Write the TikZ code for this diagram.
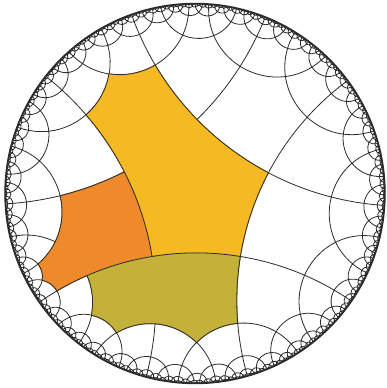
\documentclass[tikz,border=0pt]{standalone}
\definecolor{tyellow}{HTML}{F5B923}
\definecolor{torange}{HTML}{EE8A2B}
\definecolor{tolive}{HTML}{C4B13A}
\definecolor{tline}{HTML}{2B2B2B}
\tikzset{geo/.style={draw=tline, line width=0.8pt, line join=round}, rim/.style={draw=tline, line width=1.4pt}}
\ExplSyntaxOn
\fp_const:Nn \c_hy_cx_fp {195}
\fp_const:Nn \c_hy_cy_fp {194.5}
\fp_const:Nn \c_hy_R_fp {190}
\fp_const:Nn \c_hy_h_fp { ln( cos(pi/5)/sin(pi/4) + sqrt( (cos(pi/5)/sin(pi/4))^2 - 1 ) ) }
\fp_const:Nn \c_hy_rv_fp { sqrt( (cos(pi/5)/sin(pi/5))^2 - 1 ) / ( cos(pi/5)/sin(pi/5) + 1 ) }
\fp_const:Nn \c_hy_cz_fp { \c_hy_rv_fp / sqrt(2) }
\fp_const:Nn \c_hy_Amax_fp {220}
\fp_const:Nn \c_hy_minr_fp {0.6}
\fp_const:Nn \c_hy_isq_fp { 1/sqrt(2) }
\int_step_inline:nnn {1}{40}
 {
  \tl_const:cx {c_hy_C#1_tl} { \fp_eval:n { (exp(#1*\c_hy_h_fp) + exp(-#1*\c_hy_h_fp))/2 } }
  \tl_const:cx {c_hy_S#1_tl} { \fp_eval:n { (exp(#1*\c_hy_h_fp) - exp(-#1*\c_hy_h_fp))/2 } }
 }
\clist_map_inline:nn
 { ar, ai, br, bi, C, S, xar, xai, xbr, xbi, n, prev, Ar, Ai, Br, Bi, ur, ui, vr, vi, nu, nv,
   ex, ey, fx, fy, D, rr, kap, nr, ni, dr, di, dd, mx, my, tx, ty, gx, gy, Ex, Ey, Dx, Dy,
   t, th, del, s, ear, eai, ebr, ebi, ux, uy }
 { \fp_new:c { l_hy_#1_fp } }
\fp_new:N \g_hy_Tar_fp
\fp_new:N \g_hy_Tai_fp
\fp_new:N \g_hy_Tbr_fp
\fp_new:N \g_hy_Tbi_fp
\int_new:N \l_hy_k_int
\int_new:N \g_hy_head_int
\int_new:N \g_hy_tail_int
\bool_new:N \l_hy_go_bool
\tl_new:N \l_hy_key_tl
\tl_new:N \g_hy_path_tl
\tl_new:N \g_hy_edge_tl
\tl_new:N \l_hy_fill_tl
\tl_new:N \l_hy_seg_tl
\tl_new:N \l_hy_px_tl
\tl_new:N \l_hy_py_tl
\tl_new:N \l_hy_qx_tl
\tl_new:N \l_hy_qy_tl

\cs_new:Npn \hy_X:n #1 { \fp_eval:n { round(\c_hy_cx_fp + \c_hy_R_fp * (#1), 2) } }
\cs_new:Npn \hy_Y:n #1 { \fp_eval:n { round(\c_hy_cy_fp + \c_hy_R_fp * (#1), 2) } }

% (a z + b)/(conj(b) z + conj(a))
\cs_new_protected:Npn \hy_mob:nnnnnn #1#2#3#4#5#6
 {
  \fp_set:Nn \l_hy_nr_fp { (#1)*(#5) - (#2)*(#6) + (#3) }
  \fp_set:Nn \l_hy_ni_fp { (#1)*(#6) + (#2)*(#5) + (#4) }
  \fp_set:Nn \l_hy_dr_fp { (#3)*(#5) + (#4)*(#6) + (#1) }
  \fp_set:Nn \l_hy_di_fp { (#3)*(#6) - (#4)*(#5) - (#2) }
  \fp_set:Nn \l_hy_dd_fp { \l_hy_dr_fp^2 + \l_hy_di_fp^2 }
  \fp_set:Nn \l_hy_mx_fp { (\l_hy_nr_fp*\l_hy_dr_fp + \l_hy_ni_fp*\l_hy_di_fp)/\l_hy_dd_fp }
  \fp_set:Nn \l_hy_my_fp { (\l_hy_ni_fp*\l_hy_dr_fp - \l_hy_nr_fp*\l_hy_di_fp)/\l_hy_dd_fp }
 }

\cs_new_protected:Npn \hy_draw:
 {
  \fp_set:Nn \l_hy_D_fp { acos( max(-1, min(1, \l_hy_ex_fp * \l_hy_fx_fp + \l_hy_ey_fp * \l_hy_fy_fp)) ) }
  \fp_set:Nn \l_hy_rr_fp { tan(\l_hy_D_fp / 2) }
  \fp_compare:nNnT { \l_hy_rr_fp * \c_hy_R_fp } > \c_hy_minr_fp
   {
    \fp_set:Nn \l_hy_kap_fp { 1 - 4/3 * \l_hy_rr_fp * tan((pi - \l_hy_D_fp)/4) }
    \tl_gput_right:Nx \g_hy_path_tl
     {
      ( \hy_X:n { \l_hy_ex_fp } , \hy_Y:n { \l_hy_ey_fp } )
      ~..~controls~( \hy_X:n { \l_hy_kap_fp * \l_hy_ex_fp } , \hy_Y:n { \l_hy_kap_fp * \l_hy_ey_fp } )
      ~and~( \hy_X:n { \l_hy_kap_fp * \l_hy_fx_fp } , \hy_Y:n { \l_hy_kap_fp * \l_hy_fy_fp } )
      ~..~( \hy_X:n { \l_hy_fx_fp } , \hy_Y:n { \l_hy_fy_fp } ) ~
     }
   }
 }

\cs_new_protected:Npn \hy_addline:
 {
  \fp_set:Nn \l_hy_ur_fp { \l_hy_Ar_fp + \l_hy_Br_fp }
  \fp_set:Nn \l_hy_ui_fp { \l_hy_Ai_fp + \l_hy_Bi_fp }
  \fp_set:Nn \l_hy_vr_fp { \l_hy_Ar_fp - \l_hy_Br_fp }
  \fp_set:Nn \l_hy_vi_fp { \l_hy_Ai_fp - \l_hy_Bi_fp }
  \fp_set:Nn \l_hy_nu_fp { \l_hy_ur_fp^2 + \l_hy_ui_fp^2 }
  \fp_set:Nn \l_hy_nv_fp { \l_hy_vr_fp^2 + \l_hy_vi_fp^2 }
  \fp_set:Nn \l_hy_ex_fp { (\l_hy_ur_fp^2 - \l_hy_ui_fp^2) / \l_hy_nu_fp }
  \fp_set:Nn \l_hy_ey_fp { 2 * \l_hy_ur_fp * \l_hy_ui_fp / \l_hy_nu_fp }
  \fp_set:Nn \l_hy_fx_fp { (\l_hy_vi_fp^2 - \l_hy_vr_fp^2) / \l_hy_nv_fp }
  \fp_set:Nn \l_hy_fy_fp { -2 * \l_hy_vr_fp * \l_hy_vi_fp / \l_hy_nv_fp }
  \tl_set:Nx \l_hy_key_tl
   {
    \fp_eval:n { round(\l_hy_ex_fp + \l_hy_fx_fp, 4) } /
    \fp_eval:n { round(\l_hy_ey_fp + \l_hy_fy_fp, 4) } /
    \fp_eval:n { round(\l_hy_ex_fp * \l_hy_fx_fp - \l_hy_ey_fp * \l_hy_fy_fp, 4) } /
    \fp_eval:n { round(\l_hy_ex_fp * \l_hy_fy_fp + \l_hy_ey_fp * \l_hy_fx_fp, 4) }
   }
  \cs_if_exist:cF { hy@ \l_hy_key_tl }
   {
    \cs_gset_nopar:cpn { hy@ \l_hy_key_tl } { x }
    \int_gincr:N \g_hy_tail_int
    \tl_gset:cx { g_hy_q \int_use:N \g_hy_tail_int _tl }
     { { \fp_use:N \l_hy_Ar_fp } { \fp_use:N \l_hy_Ai_fp } { \fp_use:N \l_hy_Br_fp } { \fp_use:N \l_hy_Bi_fp } }
    \hy_draw:
   }
 }

\cs_new_protected:Npn \hy_child:
 {
  \fp_set:Nn \l_hy_Ar_fp { (\l_hy_xar_fp - \l_hy_xai_fp) * \c_hy_isq_fp }
  \fp_set:Nn \l_hy_Ai_fp { (\l_hy_xar_fp + \l_hy_xai_fp) * \c_hy_isq_fp }
  \fp_set:Nn \l_hy_Br_fp { (\l_hy_xbr_fp + \l_hy_xbi_fp) * \c_hy_isq_fp }
  \fp_set:Nn \l_hy_Bi_fp { (\l_hy_xbi_fp - \l_hy_xbr_fp) * \c_hy_isq_fp }
  \hy_addline:
 }

\cs_new_protected:Npn \hy_walk:n #1
 {
  \fp_set:Nn \l_hy_prev_fp { \l_hy_ar_fp^2 + \l_hy_ai_fp^2 }
  \int_set:Nn \l_hy_k_int {1}
  \bool_set_true:N \l_hy_go_bool
  \bool_while_do:Nn \l_hy_go_bool
   {
    \fp_set:Nn \l_hy_C_fp { \tl_use:c {c_hy_C \int_use:N \l_hy_k_int _tl} }
    \fp_set:Nn \l_hy_S_fp { (#1) * \tl_use:c {c_hy_S \int_use:N \l_hy_k_int _tl} }
    \fp_set:Nn \l_hy_xar_fp { \l_hy_ar_fp * \l_hy_C_fp + \l_hy_br_fp * \l_hy_S_fp }
    \fp_set:Nn \l_hy_xai_fp { \l_hy_ai_fp * \l_hy_C_fp + \l_hy_bi_fp * \l_hy_S_fp }
    \fp_set:Nn \l_hy_xbr_fp { \l_hy_ar_fp * \l_hy_S_fp + \l_hy_br_fp * \l_hy_C_fp }
    \fp_set:Nn \l_hy_xbi_fp { \l_hy_ai_fp * \l_hy_S_fp + \l_hy_bi_fp * \l_hy_C_fp }
    \fp_set:Nn \l_hy_n_fp { \l_hy_xar_fp^2 + \l_hy_xai_fp^2 }
    \fp_compare:nNnTF \l_hy_n_fp < \c_hy_Amax_fp
     { \hy_child: }
     { \fp_compare:nNnT \l_hy_n_fp > \l_hy_prev_fp { \bool_set_false:N \l_hy_go_bool } }
    \fp_set_eq:NN \l_hy_prev_fp \l_hy_n_fp
    \int_incr:N \l_hy_k_int
    \int_compare:nNnT \l_hy_k_int > {38} { \bool_set_false:N \l_hy_go_bool }
   }
 }

\cs_new_protected:Npn \hy_process:nnnn #1#2#3#4
 {
  \fp_set:Nn \l_hy_ar_fp {#1}
  \fp_set:Nn \l_hy_ai_fp {#2}
  \fp_set:Nn \l_hy_br_fp {#3}
  \fp_set:Nn \l_hy_bi_fp {#4}
  \hy_walk:n {1}
  \hy_walk:n {-1}
 }

\cs_new_protected:Npn \hy_init:
 {
  \fp_set:Nn \l_hy_Ex_fp { (150.7 - \c_hy_cx_fp) / \c_hy_R_fp }
  \fp_set:Nn \l_hy_Ey_fp { (388 - 256.7 - \c_hy_cy_fp) / \c_hy_R_fp }
  \fp_set:Nn \l_hy_Dx_fp { (241.7 - \c_hy_cx_fp) / \c_hy_R_fp }
  \fp_set:Nn \l_hy_Dy_fp { (388 - 256.7 - \c_hy_cy_fp) / \c_hy_R_fp }
  \hy_mob:nnnnnn {1}{0}{-\l_hy_Ex_fp}{-\l_hy_Ey_fp}{\l_hy_Dx_fp}{\l_hy_Dy_fp}
  \fp_set:Nn \l_hy_t_fp { sqrt(\l_hy_mx_fp^2 + \l_hy_my_fp^2) }
  \fp_set:Nn \l_hy_th_fp { atan(\l_hy_my_fp, \l_hy_mx_fp) }
  \fp_set:Nn \l_hy_del_fp { ( ln((1+\l_hy_t_fp)/(1-\l_hy_t_fp)) - 2*\c_hy_h_fp ) / 2 }
  \fp_set:Nn \l_hy_s_fp { sqrt(1 - \l_hy_Ex_fp^2 - \l_hy_Ey_fp^2) }
  \fp_set:Nn \l_hy_ear_fp { cos(\l_hy_th_fp/2) / \l_hy_s_fp }
  \fp_set:Nn \l_hy_eai_fp { sin(\l_hy_th_fp/2) / \l_hy_s_fp }
  \fp_set:Nn \l_hy_ebr_fp { (\l_hy_Ex_fp*cos(\l_hy_th_fp/2) + \l_hy_Ey_fp*sin(\l_hy_th_fp/2)) / \l_hy_s_fp }
  \fp_set:Nn \l_hy_ebi_fp { (\l_hy_Ey_fp*cos(\l_hy_th_fp/2) - \l_hy_Ex_fp*sin(\l_hy_th_fp/2)) / \l_hy_s_fp }
  \fp_set:Nn \l_hy_C_fp { (exp(\l_hy_del_fp/2) + exp(-\l_hy_del_fp/2))/2 }
  \fp_set:Nn \l_hy_S_fp { (exp(\l_hy_del_fp/2) - exp(-\l_hy_del_fp/2))/2 }
  \fp_gset:Nn \g_hy_Tar_fp { \l_hy_ear_fp*\l_hy_C_fp + \l_hy_ebr_fp*\l_hy_S_fp }
  \fp_gset:Nn \g_hy_Tai_fp { \l_hy_eai_fp*\l_hy_C_fp + \l_hy_ebi_fp*\l_hy_S_fp }
  \fp_gset:Nn \g_hy_Tbr_fp { \l_hy_ear_fp*\l_hy_S_fp + \l_hy_ebr_fp*\l_hy_C_fp }
  \fp_gset:Nn \g_hy_Tbi_fp { \l_hy_eai_fp*\l_hy_S_fp + \l_hy_ebi_fp*\l_hy_C_fp }
 }

\cs_new_protected:Npn \hy_run:
 {
  \hy_init:
  \fp_set_eq:NN \l_hy_Ar_fp \g_hy_Tar_fp
  \fp_set_eq:NN \l_hy_Ai_fp \g_hy_Tai_fp
  \fp_set_eq:NN \l_hy_Br_fp \g_hy_Tbr_fp
  \fp_set_eq:NN \l_hy_Bi_fp \g_hy_Tbi_fp
  \hy_addline:
  \bool_while_do:nn
   { \int_compare_p:nNn \g_hy_head_int < \g_hy_tail_int && \int_compare_p:nNn \g_hy_head_int < {9000} }
   {
    \int_gincr:N \g_hy_head_int
    \use:x { \exp_not:N \hy_process:nnnn \tl_use:c { g_hy_q \int_use:N \g_hy_head_int _tl } }
   }
 }

% tile #1 = T0( rho * v_k ), rho = (#2,#3)
\cs_new_protected:Npn \hy_tile_base:nnn #1#2#3
 {
  \int_step_inline:nnn {0}{4}
   {
    \hy_mob:nnnnnn {1}{0}{\c_hy_cz_fp}{\c_hy_cz_fp}
      { \c_hy_rv_fp * cosd(225 + 72*##1) } { \c_hy_rv_fp * sind(225 + 72*##1) }
    \fp_set:Nn \l_hy_tx_fp { (#2)*\l_hy_mx_fp - (#3)*\l_hy_my_fp }
    \fp_set:Nn \l_hy_ty_fp { (#2)*\l_hy_my_fp + (#3)*\l_hy_mx_fp }
    \hy_mob:nnnnnn {\g_hy_Tar_fp}{\g_hy_Tai_fp}{\g_hy_Tbr_fp}{\g_hy_Tbi_fp}{\l_hy_tx_fp}{\l_hy_ty_fp}
    \tl_set:cx {hyv#1x##1} { \fp_use:N \l_hy_mx_fp }
    \tl_set:cx {hyv#1y##1} { \fp_use:N \l_hy_my_fp }
   }
 }

% tile #1 = reflection of tile #2 in the geodesic through its vertices #3, #4
\cs_new_protected:Npn \hy_tile_refl:nnnn #1#2#3#4
 {
  \tl_set:Nx \l_hy_px_tl { \tl_use:c {hyv#2x#3} }
  \tl_set:Nx \l_hy_py_tl { \tl_use:c {hyv#2y#3} }
  \tl_set:Nx \l_hy_qx_tl { \tl_use:c {hyv#2x#4} }
  \tl_set:Nx \l_hy_qy_tl { \tl_use:c {hyv#2y#4} }
  \hy_mob:nnnnnn {1}{0}{-(\l_hy_px_tl)}{-(\l_hy_py_tl)}{\l_hy_qx_tl}{\l_hy_qy_tl}
  \fp_set:Nn \l_hy_ux_fp { (\l_hy_mx_fp^2 - \l_hy_my_fp^2)/(\l_hy_mx_fp^2 + \l_hy_my_fp^2) }
  \fp_set:Nn \l_hy_uy_fp { 2*\l_hy_mx_fp*\l_hy_my_fp/(\l_hy_mx_fp^2 + \l_hy_my_fp^2) }
  \int_step_inline:nnn {0}{4}
   {
    \hy_mob:nnnnnn {1}{0}{-(\l_hy_px_tl)}{-(\l_hy_py_tl)}{\tl_use:c {hyv#2x##1}}{\tl_use:c {hyv#2y##1}}
    \fp_set:Nn \l_hy_tx_fp { \l_hy_ux_fp*\l_hy_mx_fp + \l_hy_uy_fp*\l_hy_my_fp }
    \fp_set:Nn \l_hy_ty_fp { \l_hy_uy_fp*\l_hy_mx_fp - \l_hy_ux_fp*\l_hy_my_fp }
    \hy_mob:nnnnnn {1}{0}{\l_hy_px_tl}{\l_hy_py_tl}{\l_hy_tx_fp}{\l_hy_ty_fp}
    \tl_set:cx {hyv#1x##1} { \fp_use:N \l_hy_mx_fp }
    \tl_set:cx {hyv#1y##1} { \fp_use:N \l_hy_my_fp }
   }
 }

% geodesic segment of tile #1 from vertex #2 to the next one, into \l_hy_seg_tl
\cs_new_protected:Npn \hy_seg:nn #1#2
 {
  \tl_set:Nx \l_hy_px_tl { \tl_use:c {hyv#1x#2} }
  \tl_set:Nx \l_hy_py_tl { \tl_use:c {hyv#1y#2} }
  \tl_set:Nx \l_hy_qx_tl { \tl_use:c {hyv#1x \int_eval:n { \int_mod:nn {#2+1}{5} } } }
  \tl_set:Nx \l_hy_qy_tl { \tl_use:c {hyv#1y \int_eval:n { \int_mod:nn {#2+1}{5} } } }
  \hy_mob:nnnnnn {1}{0}{-(\l_hy_px_tl)}{-(\l_hy_py_tl)}{\l_hy_qx_tl}{\l_hy_qy_tl}
  \fp_set_eq:NN \l_hy_gx_fp \l_hy_mx_fp
  \fp_set_eq:NN \l_hy_gy_fp \l_hy_my_fp
  \tl_clear:N \l_hy_seg_tl
  \int_step_inline:nnn {0}{16}
   {
    \hy_mob:nnnnnn {1}{0}{\l_hy_px_tl}{\l_hy_py_tl}{##1/16*\l_hy_gx_fp}{##1/16*\l_hy_gy_fp}
    \tl_put_right:Nx \l_hy_seg_tl
     { \int_compare:nNnF {##1} = {0} { -- } ( \hy_X:n {\l_hy_mx_fp} , \hy_Y:n {\l_hy_my_fp} ) }
   }
 }

% fill tile #1 with colour #2, and queue its edges except edge #3
\cs_new_protected:Npn \hy_tile:nnn #1#2#3
 {
  \tl_set:Nn \l_hy_fill_tl { \filldraw[fill=#2, draw=#2, line~width=0.7pt, line~join=round] }
  \int_step_inline:nnn {0}{4}
   {
    \hy_seg:nn {#1}{##1}
    \tl_put_right:NV \l_hy_fill_tl \l_hy_seg_tl
    \tl_put_right:Nn \l_hy_fill_tl { -- }
    \int_compare:nNnF {##1} = {#3}
     { \tl_gput_right:Nx \g_hy_edge_tl { \exp_not:V \l_hy_seg_tl ~ } }
   }
  \tl_put_right:Nn \l_hy_fill_tl { cycle; }
  \tl_use:N \l_hy_fill_tl
 }

\cs_new_protected:Npn \hyRun
 {
  \hy_run:
  \use:x { \exp_not:N \path [geo] \exp_not:V \g_hy_path_tl ; }
  \hy_tile_base:nnn {Ya}{1}{0}
  \hy_tile_refl:nnnn {Yb}{Ya}{3}{4}
  \hy_tile_base:nnn {Oa}{0}{1}
  \hy_tile_refl:nnnn {Ob}{Oa}{3}{4}
  \hy_tile_base:nnn {La}{0}{-1}
  \hy_tile_base:nnn {Lb}{-1}{0}
  \hy_tile:nnn {Ya}{tyellow}{3}
  \hy_tile:nnn {Yb}{tyellow}{3}
  \hy_tile:nnn {Oa}{torange}{3}
  \hy_tile:nnn {Ob}{torange}{3}
  \hy_tile:nnn {La}{tolive}{0}
  \hy_tile:nnn {Lb}{tolive}{4}
  \use:x { \exp_not:N \path [geo] \exp_not:V \g_hy_edge_tl ; }
 }
\ExplSyntaxOff
\begin{document}
\begin{tikzpicture}[x=1pt,y=1pt]
\useasboundingbox (0,0) rectangle (387,388);
\hyRun
\draw[rim] (195,194.5) circle[radius=190];
\end{tikzpicture}
\end{document}
